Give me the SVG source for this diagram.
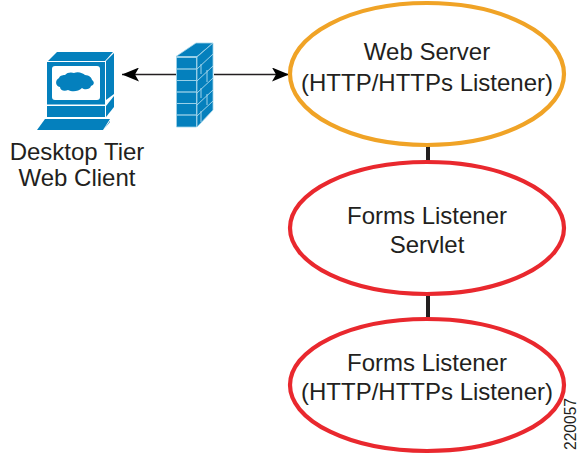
<svg xmlns="http://www.w3.org/2000/svg" width="579" height="454" viewBox="0 0 579 454">
<style>
text{font-family:"Liberation Sans",Arial,sans-serif;font-size:24px;fill:#231f20;text-anchor:middle}
.o{fill:#fff;stroke-width:4.2px}
.b{fill:#0480bd;stroke:#9fd3ea;stroke-width:.8px}
.w{fill:#0480bd}
.c{stroke:#231f20;fill:none}
</style>
<defs><marker id="a" markerUnits="userSpaceOnUse" markerWidth="18" markerHeight="14" refX="17" refY="7" orient="auto-start-reverse" viewBox="0 0 18 14"><path d="M0 0 17 7 0 14 4 7Z" fill="#000"/></marker></defs>
<g id="connectors">
<path class="c" stroke-width="4" d="M428 140V165M428 292V320"/>
<path class="c" stroke-width="1.4" d="M176 74.500H122" marker-end="url(#a)"/>
<path class="c" stroke-width="1.4" d="M214 74.500H289" marker-end="url(#a)"/>
</g>
<g id="desktop">
<path class="w" d="M48 61 57 52H113L105 61Z"/>
<path class="w" d="M47 62H105V104.500H47Z"/>
<path class="w" d="M106 61 114 53V94L106 100Z"/>
<path class="w" d="M47 106H105V117H47Z"/>
<path class="w" d="M106 106 114 96V107L106 117Z"/>
<path class="w" d="M45 119H110L103 130H37Z"/>
<path class="w" d="M104 129 110 121V122L104 129Z"/>
<rect x="52" y="66" width="48" height="34" rx="3" fill="#fff"/>
<path class="w" d="M59 78C60 75 64 75 65 75 67 72 72 72 74 73 78 71 83 73 85 75 89 75 92 78 92 80 95 82 94 85 91 86 90 90 84 90 82 88 78 92 72 92 68 90 64 92 60 90 60 87 55 86 55 80 59 78Z"/>
<text x="77" y="160">Desktop Tier</text>
<text x="77" y="186">Web Client</text>
</g>
<g id="firewall">
<path class="b" d="M176 56.500 196 43H213L197 56.500Z"/>
<path class="b" d="M197 57 213 43V110L197 127Z"/>
<path d="M197 69 213 54M197 81 213 66M197 93 213 78M197 105 213 90M197 116 213 101M201 64V74M207 70V82M201 88V98M207 94V105M201 111V122" stroke="#9fd3ea" fill="none"/>
<path class="b" d="M176.500 57.500H196.500V69H176.500ZM176.500 69H196.500V80.500H176.500ZM176.500 80.500H196.500V92H176.500ZM176.500 92H196.500V103.500H176.500ZM176.500 103.500H196.500V115H176.500ZM176.500 115H196.500V127H176.500Z"/>
</g>
<g id="web-server">
<ellipse class="o" cx="427" cy="74" rx="137" ry="71" stroke="#f0a326"/>
<text x="427" y="60">Web Server</text>
<text x="427" y="91">(HTTP/HTTPs Listener)</text>
</g>
<g id="forms-servlet">
<ellipse class="o" cx="427" cy="228" rx="137" ry="66" stroke="#e9282e"/>
<text x="427" y="224">Forms Listener</text>
<text x="427" y="253">Servlet</text>
</g>
<g id="forms-listener">
<ellipse class="o" cx="427" cy="385" rx="137" ry="66" stroke="#e9282e"/>
<text x="427" y="371">Forms Listener</text>
<text x="427" y="400">(HTTP/HTTPs Listener)</text>
</g>
<text transform="translate(575.500 450) rotate(-90)" style="font-size:15.600px;text-anchor:start">220057</text>
</svg>
